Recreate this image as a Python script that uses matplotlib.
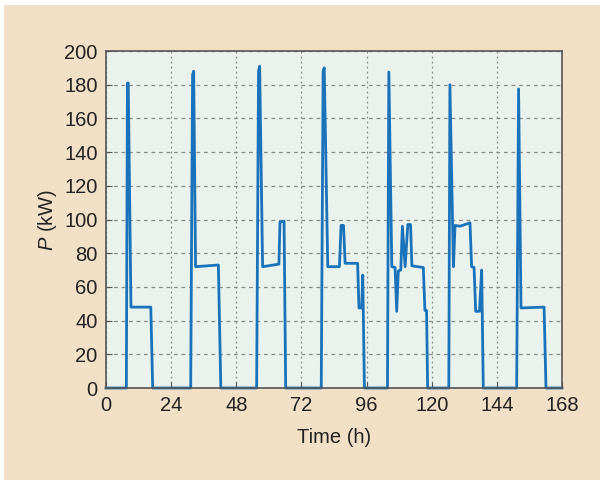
import matplotlib.pyplot as plt
from matplotlib.patches import Rectangle

plt.rcParams['mathtext.fontset'] = 'custom'
plt.rcParams['mathtext.it'] = 'Liberation Sans:italic'
plt.rcParams['mathtext.rm'] = 'Liberation Sans'

# Perfil de potência semanal
horas = [0, 7.5, 7.9, 8.2, 9.2, 16.5, 17.2,
         31.2, 31.9, 32.3, 33.0, 41.4, 42.3,
         55.5, 56.2, 56.6, 57.7, 63.7, 64.1, 65.6, 66.2,
         79.3, 80.0, 80.4, 81.7, 86.0, 86.6, 87.5, 88.1, 92.7, 93.2, 94.2, 94.6, 95.2,
         103.7, 104.2, 105.3, 106.5, 107.1, 107.7, 108.6, 109.2, 110.2, 111.2, 112.2, 112.7,
         116.9, 117.5, 118.1, 118.5,
         126.3, 126.7, 128.0, 128.6, 130.4, 134.1, 134.7, 135.6, 136.2, 137.6, 138.4, 139.0,
         151.3, 152.0, 152.9, 161.4, 162.1, 168]
potencia = [0, 0, 181, 181, 48, 48, 0,
            0, 186, 188, 72, 73, 0,
            0, 188, 191, 72, 73.5, 98.5, 99, 0,
            0, 188, 190, 72, 72, 96.5, 96.5, 74, 74, 47.5, 47.5, 67, 0,
            0, 187.5, 72, 71.5, 45.5, 69.5, 70, 96, 72, 97, 97, 72.5,
            71.5, 46, 46, 0,
            0, 180, 72, 96.5, 96, 98, 72, 71.5, 45.5, 45.5, 70, 0,
            0, 177.5, 47.5, 48, 0, 0]

fig = plt.figure(figsize=(6, 4.8), dpi=100, facecolor='white')
fig.patches.append(Rectangle((4 / 600, 0), 1, 475 / 480, transform=fig.transFigure,
                             facecolor='#F1E0C5', edgecolor='none', zorder=-10))

ax = fig.add_axes([106 / 600, 1 - 388 / 480, 456 / 600, 337 / 480])
ax.set_facecolor('#E9F2EC')

ax.plot(horas, potencia, color='#1A73BA', linewidth=2.0, clip_on=False)

ax.set_xlim(0, 168)
ax.set_ylim(0, 200)
ax.set_xticks(range(0, 169, 24))
ax.set_yticks(range(0, 201, 20))

# Grade: linhas horizontais tracejadas, verticais pontilhadas
ax.yaxis.grid(True, color='#8A8A8A', linestyle=(0, (3, 3)), linewidth=0.9)
ax.xaxis.grid(True, color='#8A8A8A', linestyle=(0, (1.5, 2.5)), linewidth=0.9)
ax.set_axisbelow(True)

for lado in ['top', 'right', 'left', 'bottom']:
    ax.spines[lado].set_color('#555555')
    ax.spines[lado].set_linewidth(1.2)

ax.tick_params(direction='in', length=4, width=0.8, color='#555555',
               labelsize=14.5, labelcolor='#222222', pad=6)
for rotulo in ax.get_xticklabels() + ax.get_yticklabels():
    rotulo.set_fontfamily('Liberation Sans')

ax.set_xlabel('Time (h)', fontsize=14.5, fontfamily='Liberation Sans', color='#222222', labelpad=9)
ax.set_ylabel('$\\mathit{P}$ (kW)', fontsize=14.5, fontfamily='Liberation Sans', color='#222222', labelpad=4)

fig.savefig('out.png', dpi=100, facecolor=fig.get_facecolor())
